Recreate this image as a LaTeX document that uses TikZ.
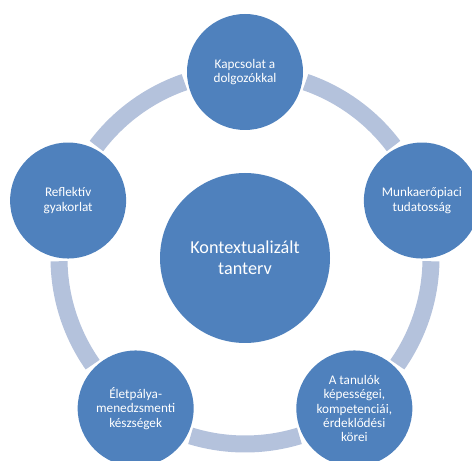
\documentclass[tikz,border=0pt]{standalone}
\usepackage{fontspec}
\setmainfont{Carlito}
\usetikzlibrary{calc}
\definecolor{cblue}{HTML}{4F81BD}
\definecolor{cring}{HTML}{B4C2DC}
\tikzset{
  topic/.style={circle, fill=cblue, text=white, minimum size=116pt, inner sep=0pt, align=center, font=\fontsize{13.2}{14.4}\selectfont},
  hub/.style={circle, fill=cblue, text=white, minimum size=170pt, inner sep=0pt, align=center, font=\fontsize{18.2}{21}\selectfont},
  ring/.style={draw=cring, line width=17pt},
}

\begin{document}
\begin{tikzpicture}[x=1pt, y=1pt]
  \clip (0,0) rectangle (472,461);
  \node[hub] (hub) at (245,203) {Kontextualizált\\tanterv};
  % ring pieces between the five topics
  \foreach \a in {18,90,162,234,306}
    \draw[ring] ($(hub)+(\a+19:186)$) arc[start angle=\a+19, end angle=\a+53, radius=186];
  \node[topic] (kapcsolat) at ($(hub)+(90:186)$) {Kapcsolat a\\dolgozókkal};
  \node[topic] (munka) at ($(hub)+(18:186)$) {Munkaerőpiaci\\tudatosság};
  \node[topic] (tanulok) at ($(hub)+(-54:186)$) {A tanulók\\képességei,\\kompetenciái,\\érdeklődési\\körei};
  \node[topic] (eletpalya) at ($(hub)+(234:186)$) {Életpálya-\\menedzsmenti\\készségek};
  \node[topic] (reflektiv) at ($(hub)+(162:186)$) {Reflektív\\gyakorlat};
\end{tikzpicture}
\end{document}
